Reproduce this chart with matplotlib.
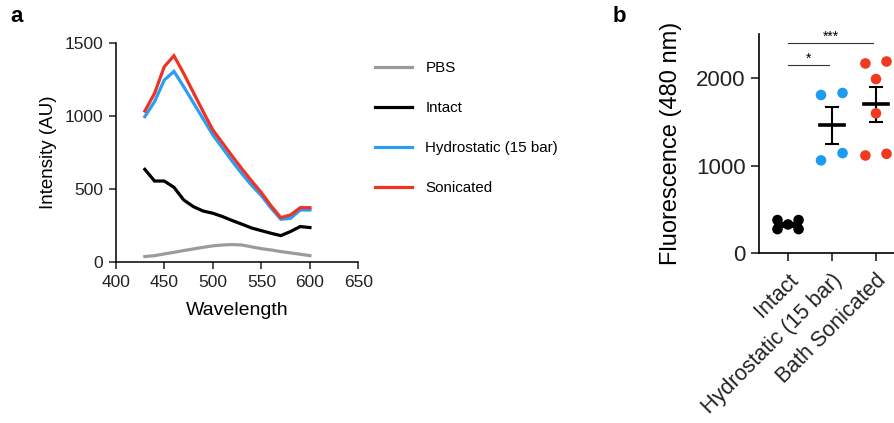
import matplotlib
matplotlib.use("Agg")
import matplotlib.pyplot as plt
import numpy as np

plt.rcParams['font.family'] = ['Liberation Sans', 'DejaVu Sans']

# ---- Panel a data ----
wavelength = [430, 440, 450, 460, 470, 480, 490, 500, 510, 520, 530, 540, 550, 560, 570, 580, 590, 600]
pbs = [39, 45, 57, 68, 80, 91, 102, 112, 118, 121, 118, 105, 93, 84, 73, 64, 55, 45]
intact = [635, 555, 555, 512, 426, 380, 350, 335, 312, 285, 260, 234, 216, 198, 182, 210, 244, 237]
hydro = [995, 1097, 1245, 1304, 1200, 1090, 980, 870, 780, 690, 605, 525, 455, 370, 294, 300, 357, 357]
sonic = [1033, 1154, 1336, 1411, 1290, 1160, 1030, 904, 815, 725, 638, 555, 476, 385, 305, 323, 373, 373]
series_names = ["PBS", "Intact", "Hydrostatic (15 bar)", "Sonicated"]

# ---- Panel b data ----
categories = ["Intact", "Hydrostatic (15 bar)", "Bath Sonicated"]
intact_pts = [380, 277, 330, 380, 277]
intact_off = [-0.24, -0.24, 0.0, 0.24, 0.24]
hydro_pts = [1807, 1830, 1061, 1144]
hydro_off = [-0.25, 0.24, -0.25, 0.24]
sonic_pts = [2167, 2189, 1989, 1598, 1117, 1136]
sonic_off = [-0.24, 0.24, 0.0, 0.0, -0.24, 0.24]
sig_pairs = [(0, 1, 2148, "*"), (0, 2, 2396, "***")]

fig = plt.figure(figsize=(8.94, 4.23), dpi=100)

# Panel a
axa = fig.add_axes([0.1294, 0.380, 0.2716, 0.519])
cols_a = ["#9b9b9b", "#000000", "#2a9df4", "#ee3322"]
for ys, c, n in zip([pbs, intact, hydro, sonic], cols_a, series_names):
    axa.plot(wavelength, ys, color=c, lw=2.3, label=n, solid_joinstyle='miter')
axa.set_xlim(400, 650)
axa.set_ylim(0, 1500)
axa.set_xticks([400, 450, 500, 550, 600, 650])
axa.set_yticks([0, 500, 1000, 1500])
for s in ['top', 'right']:
    axa.spines[s].set_visible(False)
for s in ['left', 'bottom']:
    axa.spines[s].set_linewidth(1.1)
axa.tick_params(labelsize=12.5, length=5, width=1.1, colors='#222222', pad=4)
axa.set_xlabel("Wavelength", fontsize=14, labelpad=9)
axa.set_ylabel("Intensity (AU)", fontsize=13.5, labelpad=5)

leg = axa.legend(loc='upper left', frameon=False,
                 fontsize=10.9, handlelength=2.4, handletextpad=0.9,
                 labelspacing=1.72, borderaxespad=0.0)
leg.set_bbox_to_anchor((1.045, 0.945), transform=axa.transAxes)

fig.text(10 / 894, 1 - 17 / 423, "a", fontsize=16, fontweight='bold', va='center', ha='left')
fig.text(613 / 894, 1 - 17 / 423, "b", fontsize=16, fontweight='bold', va='center', ha='left')

# Panel b
axb = fig.add_axes([0.849, 0.401, 0.151, 0.518])
groups = [(intact_pts, intact_off, "#000000"), (hydro_pts, hydro_off, "#1c9bf0"), (sonic_pts, sonic_off, "#f03a1e")]
for i, (pts, off, c) in enumerate(groups):
    pts = np.array(pts, dtype=float)
    m = pts.mean()
    sem = pts.std(ddof=1) / np.sqrt(len(pts))
    axb.plot([i - 0.28, i + 0.28], [m, m], color='black', lw=2.6, zorder=2)
    axb.errorbar(i, m, yerr=sem, color='black', capsize=5, capthick=1.5, elinewidth=1.5, zorder=2)
    axb.scatter(np.array(off) + i, pts, s=58, color=c, edgecolors='none', zorder=3, clip_on=False)

for a, b, y, t in sig_pairs:
    axb.plot([a, b - 0.06], [y, y], color='#333333', lw=0.8)
    axb.text((a + b - 0.06) / 2, y + 70, t, ha='center', va='center', fontsize=10)

axb.set_xlim(-0.66, 2.41)
axb.set_ylim(0, 2500)
axb.set_yticks([0, 1000, 2000])
axb.set_xticks(range(len(categories)))
axb.set_xticklabels(categories, rotation=45, ha='right', rotation_mode='anchor')
for s in ['top', 'right']:
    axb.spines[s].set_visible(False)
for s in ['left', 'bottom']:
    axb.spines[s].set_linewidth(1.2)
axb.tick_params(labelsize=16, length=6, width=1.2, colors='#222222')
axb.tick_params(axis='x', pad=6, labelsize=15.5)
axb.set_ylabel("Fluorescence (480 nm)", fontsize=17, labelpad=10)

fig.savefig("out.png", dpi=100)
